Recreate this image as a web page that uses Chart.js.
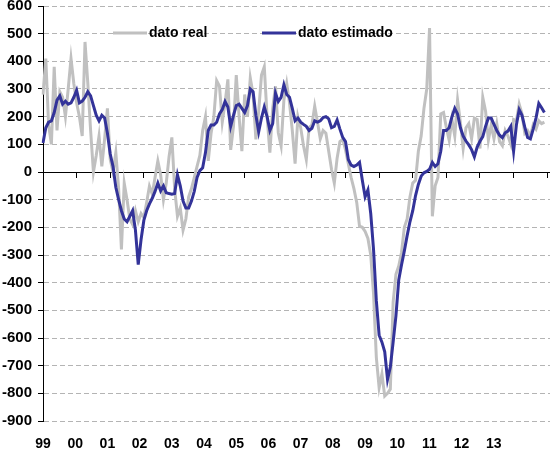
<!DOCTYPE html>
<html>
<head>
<meta charset="utf-8">
<script src="https://cdn.jsdelivr.net/npm/chart.js@4.4.0/dist/chart.umd.min.js"></script>
<style>
  html, body { margin: 0; padding: 0; background: #fff; }
  #wrap { width: 550px; height: 450px; }
</style>
</head>
<body>
<div id="wrap"><canvas id="chart"></canvas></div>
<script>
// etiquetas de año del eje inferior
const yearLabels = ['99', '00', '01', '02', '03', '04', '05', '06', '07', '08', '09', '10', '11', '12', '13'];

// serie mensual ene-1999 .. dic-2013
const datoReal = [
    280, 410, 170, 100, 380, 150, 290, 270, 200, 300, 410, 320,
    250, 200, 130, 470, 320, 150, 0, 60, 130, 20, 120, 230,
    45, 0, 70, -60, -280, -40, -100, -170, -190, -140, -180, -150,
    -165, -110, -51, -80, -20, 40, -10, -100, -40, 55, 125, -60,
    -160, -130, -210, -170, -90, -60, -20, 20, 60, 150, 200, 40,
    140, 200, 330, 310, 180, 250, 335, 80, 165, 350, 200, 75,
    280, 200, 340, 280, 118, 220, 350, 380, 200, 70, 230, 310,
    142, 95, 260, 320, 250, 150, 30, 200, 160, 95, 45, 160,
    170, 238, 180, 120, 150, 140, 75, 10, -40, 50, 110, 118,
    80, 30, -20, -60, -110, -196, -200, -215, -240, -300, -440, -670,
    -780, -730, -810, -800, -785, -470, -370, -340, -290, -200, -170, -90,
    -40, -30, 75, 130, 230, 300, 520, -160, -50, -20, 210, 215,
    160, 115, 190, 130, 260, 180, 85, 160, 175, 120, 195, 190,
    85, 270, 220, 115, 170, 120, 175, 110, 95, 150, 130, 100,
    190, 185, 245, 210, 140, 150, 130, 170, 155, 185, 175, 180
];

const datoEstimado = [
    105, 160, 180, 185, 215, 260, 275, 245, 256, 245, 250, 270,
    295, 250, 256, 270, 290, 275, 240, 205, 185, 205, 195, 140,
    65, 20, -55, -100, -140, -170, -180, -160, -140, -210, -335, -245,
    -175, -140, -115, -95, -70, -40, -68, -50, -75, -78, -80, -78,
    -10, -50, -105, -130, -130, -105, -70, -20, 5, 15, 70, 150,
    170, 170, 180, 210, 226, 255, 235, 165, 205, 240, 245, 230,
    215, 240, 300, 290, 205, 145, 195, 235, 200, 150, 175, 285,
    255, 270, 315, 280, 270, 230, 185, 195, 180, 172, 165, 150,
    158, 185, 180, 185, 197, 200, 192, 160, 165, 188, 155, 125,
    110, 45, 25, 20, 25, 35, -30, -90, -65, -150, -280, -465,
    -590, -615, -650, -750, -705, -615, -520, -390, -335, -285, -230, -180,
    -140, -85, -45, -15, -3, 2, 10, 35, 20, 30, 75, 150,
    150, 160, 200, 230, 210, 160, 130, 112, 98, 81, 55, 90,
    111, 128, 165, 195, 195, 172, 150, 133, 124, 142, 148, 165,
    75, 170, 225, 205, 162, 125, 120, 155, 195, 248, 232, 215
];

// eje mensual (con dos meses de margen a la derecha)
const months = [];
for (let i = 0; i < 182; i++) {
    months.push((1999 + Math.floor(i / 12)) + '-' + String(i % 12 + 1).padStart(2, '0'));
}

const GRIS = '#c0c0c0';
const AZUL = '#333399';
const FONT = 'Liberation Sans, Arial, sans-serif';

// leyenda dentro del área del gráfico
const inlineLegend = {
    id: 'inlineLegend',
    afterDraw(chart) {
        const { ctx, chartArea } = chart;
        const y = chartArea.top + 27;
        const offsets = [70, 219];
        ctx.save();
        ctx.font = 'bold 14px ' + FONT;
        ctx.textBaseline = 'middle';
        chart.data.datasets.forEach((ds, i) => {
            const x = chartArea.left + offsets[i];
            ctx.strokeStyle = ds.borderColor;
            ctx.lineWidth = 3;
            ctx.beginPath();
            ctx.moveTo(x, y);
            ctx.lineTo(x + 34, y);
            ctx.stroke();
            ctx.fillStyle = '#000';
            ctx.fillText(ds.label, x + 36, y);
        });
        ctx.restore();
    }
};

new Chart(document.getElementById('chart').getContext('2d'), {
    type: 'line',
    data: {
        labels: months,
        datasets: [
            { label: 'dato real', data: datoReal, borderColor: GRIS, borderWidth: 3, pointRadius: 0, order: 1 },
            { label: 'dato estimado', data: datoEstimado, borderColor: AZUL, borderWidth: 3, pointRadius: 0, order: 0 }
        ]
    },
    options: {
        responsive: true,
        maintainAspectRatio: false,
        animation: false,
        devicePixelRatio: 1,
        layout: { padding: 0 },
        plugins: { legend: { display: false }, tooltip: { enabled: false } },
        scales: {
            x: {
                type: 'category',
                position: { y: 0 },
                afterFit: s => { s.height = 0; s.paddingLeft = 0; s.paddingRight = 0; },
                ticks: { display: false },
                grid: {
                    drawOnChartArea: false,
                    drawTicks: true,
                    tickLength: 5,
                    color: ctx => ctx.index % 12 === 0 ? '#000' : 'rgba(0,0,0,0)'
                },
                border: { display: true, color: '#000', width: 1 }
            },
            xl: {
                type: 'linear',
                position: 'bottom',
                min: 0,
                max: 507 / 32.2,
                afterFit: s => { s.height = 29; s.paddingLeft = 0; s.paddingRight = 0; },
                ticks: {
                    stepSize: 1,
                    autoSkip: false,
                    maxRotation: 0,
                    padding: 0,
                    color: '#000',
                    font: { family: FONT, size: 14, weight: 'bold', lineHeight: 1 },
                    callback: v => yearLabels[v] !== undefined ? yearLabels[v] : ''
                },
                grid: { display: false, drawTicks: true, tickLength: 16 },
                border: { display: false }
            },
            y: {
                min: -900,
                max: 600,
                afterFit: s => { s.width = 43; s.paddingTop = 6; s.paddingBottom = 0; },
                ticks: {
                    stepSize: 100,
                    padding: 6,
                    color: '#000',
                    font: { family: FONT, size: 15, weight: 'bold' }
                },
                grid: {
                    color: ctx => ctx.tick && ctx.tick.value === 0 ? 'rgba(0,0,0,0)' : '#b4b4b4',
                    tickColor: '#000',
                    tickLength: 5,
                    tickBorderDash: []
                },
                border: { display: true, color: '#000', width: 1, dash: [5, 3] }
            }
        }
    },
    plugins: [inlineLegend]
});
</script>
</body>
</html>
